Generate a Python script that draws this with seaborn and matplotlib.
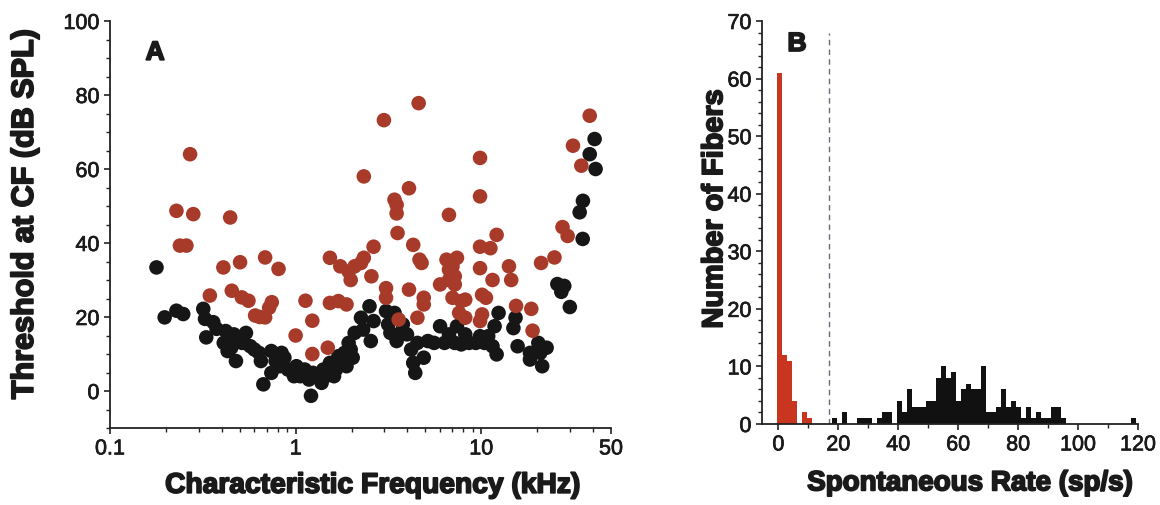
import numpy as np
import pandas as pd
import matplotlib
matplotlib.use("Agg")
import matplotlib.pyplot as plt
import matplotlib.patheffects as pe
from matplotlib.ticker import FixedLocator, NullFormatter, MultipleLocator
import seaborn as sns

# ---------------- Panel A data: (CF in kHz, threshold in dB SPL) ----------------
red_cf = [0.27, 0.228, 0.281, 0.238, 0.258, 0.345, 0.444, 0.408, 0.502, 0.453, 0.513, 0.557,
          0.685, 0.809, 0.744, 0.605, 0.685, 0.64, 0.72, 1.0, 1.13, 1.23, 1.23, 1.49, 1.53, 1.53,
          1.70, 1.74, 1.88, 1.93, 1.98, 2.08, 2.25, 2.33, 2.33, 2.56, 2.63, 2.99, 3.07, 3.07, 3.41,
          3.50, 3.50, 3.54, 3.59, 4.08, 4.08, 4.30, 4.6, 4.65, 4.77, 4.9, 4.9, 4.53, 6.0, 6.7, 6.5,
          6.7, 6.7, 7.0, 7.2, 7.4, 7.2, 7.0, 7.8, 8.2, 7.6, 8.2, 9.85, 9.85, 9.85, 9.85, 10.1, 10.6,
          10.1, 9.85, 11.2, 12.1, 11.5, 14.1, 14.5, 15.4, 18.6, 18.9, 21.0, 24.8, 27.4, 29.2, 31.2,
          34.6, 38.4]
red_thr = [64, 48.7, 47.8, 39.3, 39.3, 25.8, 46.9, 33.4, 34.8, 27.1, 25.3, 24.4,
           36.1, 33, 24, 20.4, 19.9, 20, 22.5, 15, 24.4, 19, 10, 11.7, 36, 23.8,
           24.3, 33.7, 23.4, 32.3, 30, 33.7, 34.6, 58, 36, 31, 39, 73.2, 27.8, 25.2, 51.7,
           50.3, 48, 42.7, 19.3, 54.8, 27.4, 39.5, 77.8, 35.5, 34.6, 25.2, 23.4, 19.8, 28.8, 47.6, 35.5,
           32.8, 30, 33.7, 31, 36, 28.8, 25.2, 24.3, 24.7, 21.1, 19.8, 63, 52.6, 39, 33.2, 26, 25.2,
           20.7, 18.9, 38.6, 42.2, 30, 33.7, 30, 23, 22.2, 16.3, 34.6, 36.1, 44.3, 41.9, 66.3,
           60.9, 74.4]

black_cf = [0.178, 0.197, 0.228, 0.248, 0.318, 0.325, 0.36, 0.33, 0.375, 0.41, 0.42, 0.43, 0.45,
            0.465, 0.477, 0.49, 0.515, 0.54, 0.57, 0.60, 0.635, 0.65, 0.67, 0.74, 0.74, 0.78, 0.82,
            0.84, 0.87, 0.91, 0.98, 1.01, 1.06, 1.12, 1.18, 1.21, 1.24, 1.31, 1.38, 1.41, 1.45, 1.53,
            1.61, 1.65, 1.70, 1.79, 1.83, 1.88, 1.93, 1.98, 2.03, 2.08, 2.25, 2.31, 2.50, 2.54, 2.63,
            3.07, 3.15, 3.24, 3.41, 3.50, 3.68, 3.78, 3.98, 4.19, 4.30, 4.41, 4.53, 4.9, 5.16, 5.57,
            6.0, 6.34, 6.7, 7.2, 7.4, 7.8, 8.2, 8.6, 9.35, 9.85, 10.4, 10.9, 11.5, 11.8, 12.1, 12.4,
            14.9, 15.3, 15.7, 18.3, 18.3, 20.3, 20.8, 21.3, 22.5, 25.7, 28.0, 27.0, 30.0, 35.2, 35.3,
            33.9, 38.4, 40.8, 41.3]
black_thr = [33.4, 19.9, 21.7, 20.8, 22.2, 19.5, 18.6, 14.5, 16.8, 13, 16.2, 10.8, 11.7,
             15.3, 8.1, 13.9, 13, 15.7, 12.1, 11.2, 10.3, 8.1, 1.8, 4.9, 10.8, 8.1, 6.7,
             10.3, 9, 5.8, 4, 6.7, 4, 5.8, 3.1, -1.3, 4.9, 4, 2.2, 5.8, 4, 7.6,
             4, 5.8, 9.4, 7.6, 10.3, 6.7, 13, 11.2, 9, 15.7, 19.8, 16.6, 22.9, 13.5, 18.9,
             21.6, 18, 15.7, 21.1, 13.5, 15.7, 18, 15.3, 11.2, 7.6, 4.9, 13, 9, 13.5, 13,
             17.5, 13, 15.3, 13, 17.5, 12.6, 15.3, 13, 13, 14.8, 13, 14.8, 12.1, 17.5, 9.9, 21.1,
             17, 19.8, 12.1, 10.3, 8.5, 13, 10.3, 6.7, 11.7, 28.9, 28.4, 26.8, 22.7, 41.1, 51.4,
             48.3, 64, 68.1, 60]

# ---------------- Panel B data: histogram of spontaneous rate ----------------
bin_width = 5 / 3
bin_start = -0.6
n_bins = 75
red_bins = [0, 1, 2, 3, 5, 6]
red_counts = [61, 12, 11, 4, 2, 1]
black_bins = [11, 13, 16, 17, 18, 20, 21, 22, 24, 25, 26, 27, 28, 29, 30, 31, 32, 33, 34, 35,
              36, 37, 38, 39, 40, 41, 42, 43, 44, 45, 46, 47, 48, 49, 50, 51, 52, 53, 54, 55,
              56, 57, 71]
black_counts = [1, 2, 1, 1, 1, 1, 2, 2, 4, 2, 6, 3, 3, 3, 4, 4, 8, 10, 8, 9,
                4, 6, 7, 6, 6, 10, 2, 2, 3, 6, 3, 4, 3, 1, 3, 1, 2, 1, 1, 3,
                3, 1, 1]
sr_criterion = 17

# ---------------- styling ----------------
sns.set_theme(style="ticks")
plt.rcParams["font.family"] = ["Liberation Sans", "DejaVu Sans"]

RED_DOT = "#a83a2a"
BLACK_DOT = "#161616"
RED_BAR = "#c8361f"
BLACK_BAR = "#111111"
AX_COL = "#222222"
TXT = "#1a1a1a"
heavy = [pe.withStroke(linewidth=1.3, foreground=TXT)]
semi = [pe.withStroke(linewidth=0.5, foreground=TXT)]

fig = plt.figure(figsize=(11.6, 5.06), dpi=100)
axA = fig.add_axes([110 / 1160, 77 / 506, 501 / 1160, 407 / 506])
axB = fig.add_axes([762 / 1160, 81 / 506, 376 / 1160, 403 / 506])

dfA = pd.DataFrame({
    "cf": black_cf + red_cf,
    "thr": black_thr + red_thr,
    "grp": ["black"] * len(black_cf) + ["red"] * len(red_cf),
})
sns.scatterplot(data=dfA, x="cf", y="thr", hue="grp",
                palette={"black": BLACK_DOT, "red": RED_DOT},
                s=110, linewidth=0, alpha=1, legend=False, ax=axA)
axA.set_xscale("log")
axA.set_xlim(0.1, 50)
axA.set_ylim(-10, 100)
axA.xaxis.set_major_locator(FixedLocator([0.1, 1, 10, 50]))
axA.set_xticklabels(["0.1", "1", "10", "50"])
minor_x = [m * d for d in (0.1, 1, 10) for m in range(2, 10) if m * d < 50]
axA.xaxis.set_minor_locator(FixedLocator(minor_x))
axA.xaxis.set_minor_formatter(NullFormatter())
axA.yaxis.set_major_locator(FixedLocator([0, 20, 40, 60, 80, 100]))
axA.yaxis.set_minor_locator(MultipleLocator(5))
axA.set_xlabel("Characteristic Frequency (kHz)", fontsize=20.3, fontweight="bold",
               color=TXT, path_effects=heavy)
axA.set_ylabel("Threshold at CF (dB SPL)", fontsize=22, fontweight="bold",
               color=TXT, path_effects=heavy)
axA.text(0.09, 0.922, "A", transform=axA.transAxes, fontsize=19, fontweight="bold",
         ha="center", va="center", color=TXT, path_effects=heavy)

# histogram
edges = list(bin_start + np.arange(n_bins + 1) * bin_width)
dfR = pd.DataFrame({"rate": [bin_start + (b + 0.5) * bin_width for b in red_bins],
                    "n": red_counts})
dfK = pd.DataFrame({"rate": [bin_start + (b + 0.5) * bin_width for b in black_bins],
                    "n": black_counts})
sns.histplot(data=dfK, x="rate", weights="n", bins=edges, color=BLACK_BAR,
             edgecolor="none", linewidth=0, alpha=1, ax=axB)
sns.histplot(data=dfR, x="rate", weights="n", bins=edges, color=RED_BAR,
             edgecolor="none", linewidth=0, alpha=1, ax=axB)
axB.vlines(sr_criterion, 0, 68, colors="#6a6a78", linestyles=(0, (4, 3)), linewidth=1)
axB.set_xlim(-5.5, 120)
axB.set_ylim(0, 70)
axB.xaxis.set_major_locator(MultipleLocator(20))
axB.xaxis.set_minor_locator(MultipleLocator(10))
axB.yaxis.set_major_locator(MultipleLocator(10))
axB.yaxis.set_minor_locator(MultipleLocator(2))
axB.set_xlabel("Spontaneous Rate (sp/s)", fontsize=20, fontweight="bold",
               color=TXT, path_effects=heavy)
axB.set_ylabel("Number of Fibers", fontsize=20.8, fontweight="bold",
               color=TXT, path_effects=heavy)
axB.text(0.093, 0.943, "B", transform=axB.transAxes, fontsize=19, fontweight="bold",
         ha="center", va="center", color=TXT, path_effects=heavy)

for ax in (axA, axB):
    sns.despine(ax=ax)
    for sp in ("left", "bottom"):
        ax.spines[sp].set_color(AX_COL)
        ax.spines[sp].set_linewidth(1.3)
    ax.tick_params(axis="both", which="major", length=4.5, width=1.2, color=AX_COL,
                   labelsize=15.5, pad=3, labelcolor=TXT, direction="out")
    ax.tick_params(axis="both", which="minor", length=3, width=1.0, color=AX_COL,
                   direction="out")
    for lab in ax.get_xticklabels() + ax.get_yticklabels():
        lab.set_path_effects(semi)

axA.yaxis.set_label_coords(-0.14, 0.525)
axA.xaxis.set_label_coords(0.525, -0.11)
axB.yaxis.set_label_coords(-0.09, 0.533)
axB.xaxis.set_label_coords(0.553, -0.115)

fig.savefig("out.png", dpi=100, facecolor="white")
